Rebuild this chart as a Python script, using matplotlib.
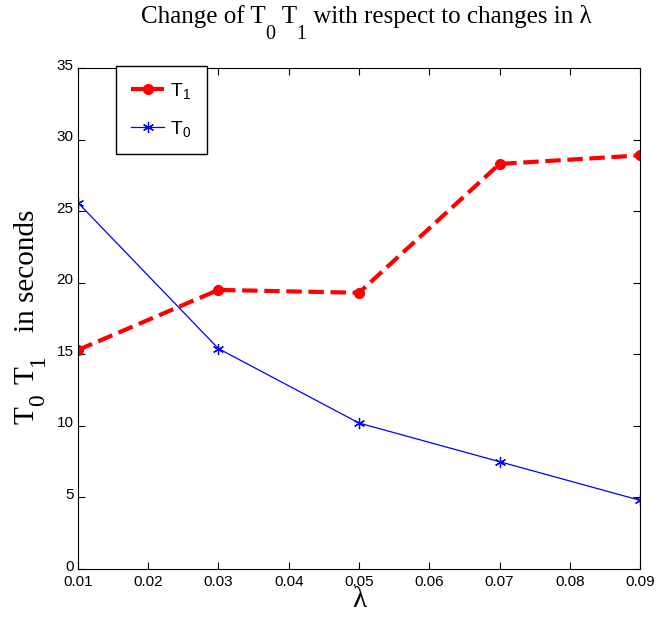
import matplotlib
matplotlib.use("Agg")
import matplotlib.pyplot as plt
from matplotlib.transforms import IdentityTransform, ScaledTranslation

lam = [0.01, 0.03, 0.05, 0.07, 0.09]
t1 = [15.3, 19.5, 19.3, 28.3, 28.9]
t0 = [25.6, 15.4, 10.2, 7.5, 4.8]
xticks = [0.01, 0.02, 0.03, 0.04, 0.05, 0.06, 0.07, 0.08, 0.09]
yticks = [0, 5, 10, 15, 20, 25, 30, 35]

plt.rcParams['font.family'] = ['Liberation Sans', 'DejaVu Sans']
plt.rcParams['mathtext.fontset'] = 'custom'
plt.rcParams['mathtext.rm'] = 'Liberation Serif'
plt.rcParams['mathtext.sf'] = 'Liberation Sans'

fig = plt.figure(figsize=(6.71, 6.39), dpi=100)
ax = fig.add_axes([0.116, 0.1095, 0.838, 0.784])

asterisk = (6, 2, 0)
ax.plot(lam, t1, color='red', linestyle='--', linewidth=3, marker='o',
        markersize=7, label=r'$\mathsf{T_1}$')
ax.plot(lam, t0, color='blue', linestyle='-', linewidth=0.9, marker=asterisk,
        markersize=8, markeredgewidth=0.9, label=r'$\mathsf{T_0}$')

ax.set_xlim(0.01, 0.09)
ax.set_ylim(0, 35)
ax.set_xticks(xticks)
ax.set_xticklabels([f"{v:.2f}" for v in xticks])
ax.set_yticks(yticks)
ax.tick_params(direction='in', top=True, right=True, labelsize=11, length=5)
ax.tick_params(axis='x', pad=4)
ax.tick_params(axis='y', pad=3)
# MATLAB puts the y tick labels a little above their ticks
shift = ScaledTranslation(0, 4 / 100, fig.dpi_scale_trans)
for lab in ax.get_yticklabels():
    lab.set_transform(lab.get_transform() + shift)

ax.set_xlabel('λ', family='Liberation Serif', fontsize=21, labelpad=-1)

leg = ax.legend(loc='upper left', bbox_to_anchor=(0.0676, 1.005), numpoints=1,
                borderaxespad=0, fancybox=False, edgecolor='black', framealpha=1,
                fontsize=14, handlelength=1.7, borderpad=0.8,
                labelspacing=0.9, handletextpad=0.3)
leg.get_frame().set_linewidth(1.0)

# title and y label with big, low subscripts (MATLAB style), laid out piece by piece
renderer = fig.canvas.get_renderer()
serif = 'Liberation Serif'


def pieces_text(parts, x0, y0, size, drop, rotation=0):
    # parts: list of (string, is_sub, gap_after_px)
    objs = []
    for s, sub, gap in parts:
        t = fig.text(0, 0, s, family=serif, fontsize=size * (0.8 if sub else 1),
                     transform=IdentityTransform(), rotation=rotation,
                     rotation_mode='anchor', ha='left', va='baseline')
        objs.append((t, sub, gap))
    lens = []
    for t, sub, gap in objs:
        bb = t.get_window_extent(renderer)
        lens.append((bb.height if rotation else bb.width) + gap)
    pos = -sum(lens) / 2
    for (t, sub, gap), L in zip(objs, lens):
        if rotation:
            t.set_position((x0 + (drop if sub else 0), y0 + pos))
        else:
            t.set_position((x0 + pos, y0 - (drop if sub else 0)))
        pos += L


H = 639
pieces_text([("Change of T", False, 0), ("0", True, 0), (" T", False, 0),
             ("1", True, 0), (" with respect to changes in λ", False, 0)],
            366, H - 23, 18, 16)
pieces_text([("T", False, 0), ("0", True, 11), ("T", False, 0),
             ("1", True, 22), ("in seconds", False, 0)],
            34, H - 317, 21, 10, rotation=90)

fig.savefig('out.png', dpi=100)
